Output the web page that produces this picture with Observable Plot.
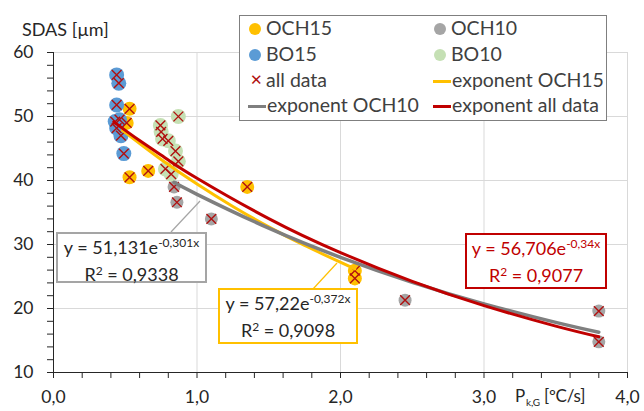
<!DOCTYPE html>
<html>
<head>
<meta charset="utf-8">
<script src="https://cdn.jsdelivr.net/npm/d3@7"></script>
<script src="https://cdn.jsdelivr.net/npm/@observablehq/plot@0.6"></script>
<style>
  body { margin: 0; background: #fff; }
  #wrap { position: relative; width: 644px; height: 411px; font-family: Lato, "Open Sans", sans-serif; color: #404040; }
  .ov { position: absolute; white-space: nowrap; }
  .leg { position: absolute; font-size: 19.5px; line-height: 22px; height: 22px; color: #404040; white-space: nowrap; }
  .dotm { position: absolute; width: 12px; height: 12px; border-radius: 50%; }
  .linem { position: absolute; height: 3px; }
  .eq { position: absolute; background: #fff; border: 2px solid; text-align: center; font-size: 18px; line-height: 24px; box-sizing: border-box; padding-top: 1px; white-space: nowrap; }
  .eq sup { font-size: 12px; vertical-align: 0; position: relative; top: -7px; }
</style>
</head>
<body>
<div id="wrap"></div>
<script>
// ---- data ----
const och15X = [0.53, 0.51, 0.53, 0.66, 1.35, 2.10, 2.10];
const och15Y = [51.2, 49.0, 40.5, 41.5, 39.0, 25.9, 24.7];

const och10X = [0.84, 0.86, 1.10, 2.45, 3.80, 3.80];
const och10Y = [39.0, 36.6, 34.0, 21.3, 19.6, 14.8];

const bo15X = [0.44, 0.455, 0.44, 0.43, 0.44, 0.47, 0.46, 0.49];
const bo15Y = [56.5, 55.2, 51.8, 49.2, 48.2, 47.0, 49.5, 44.2];

const bo10X = [0.87, 0.745, 0.75, 0.76, 0.80, 0.85, 0.78, 0.82, 0.87];
const bo10Y = [50.0, 48.6, 47.6, 46.5, 46.2, 44.6, 41.8, 41.0, 43.0];

// trend curves
const trendOch15X = [0.48, 0.75, 1.0, 1.25, 1.5, 1.75, 2.1];
const trendOch15Y = [47.86, 43.29, 39.45, 35.95, 32.75, 29.84, 26.20];
const trendOch10X = [0.84, 1.0, 1.5, 2.0, 2.5, 3.0, 3.5, 3.8];
const trendOch10Y = [39.71, 37.84, 32.55, 28.00, 24.09, 20.73, 17.83, 16.29];
const trendAllX = [0.42, 0.6, 0.8, 1.0, 1.5, 2.0, 2.5, 3.0, 3.5, 3.8];
const trendAllY = [49.16, 46.24, 43.21, 40.36, 34.05, 28.73, 24.24, 20.45, 17.25, 15.58];

const xTicks = [0, 0.2, 0.4, 0.6, 0.8, 1, 1.2, 1.4, 1.6, 1.8, 2, 2.2, 2.4, 2.6, 2.8, 3, 3.2, 3.4, 3.6, 3.8, 4];
const yTicks = [10, 12, 14, 16, 18, 20, 22, 24, 26, 28, 30, 32, 34, 36, 38, 40, 42, 44, 46, 48, 50, 52, 54, 56, 58, 60];
const xGrid = [1, 2, 3, 4];
const yGrid = [20, 30, 40, 50, 60];

const legendItems = ["OCH15", "OCH10", "BO15", "BO10", "all data", "exponent OCH15", "exponent OCH10", "exponent all data"];
const eqOch10 = ["51,131", "-0,301x", "0,9338"];
const eqOch15 = ["57,22", "-0,372x", "0,9098"];
const eqAll = ["56,706", "-0,34x", "0,9077"];

// ---- build rows ----
const rows = (xs, ys) => xs.map((x, i) => ({x, y: ys[i]}));
const och15 = rows(och15X, och15Y), och10 = rows(och10X, och10Y);
const bo15 = rows(bo15X, bo15Y), bo10 = rows(bo10X, bo10Y);
const all = [...bo15, ...och15, ...bo10, ...och10];

const C = {och15: "#FFC000", och10: "#A5A5A5", bo15: "#5B9BD5", bo10: "#C5E0B4", cross: "#B01010",
           lOch15: "#FFC000", lOch10: "#7F7F7F", lAll: "#C00000", grid: "#D9D9D9", axis: "#262626"};

const fmt = d => Math.abs(d - Math.round(d)) < 1e-6 ? d.toFixed(1).replace(".", ",") : "";
const fmtY = d => d % 10 === 0 ? String(d) : "";

const chart = Plot.plot({
  width: 644, height: 411,
  marginLeft: 53, marginRight: 17, marginTop: 52, marginBottom: 39,
  x: {domain: [0, 4]},
  y: {domain: [10, 60]},
  style: {fontFamily: "Lato, 'Open Sans', sans-serif", fontSize: "17.5px", color: "#404040", background: "white"},
  marks: [
    Plot.gridY(yGrid, {stroke: C.grid, strokeOpacity: 1}),
    Plot.gridX(xGrid, {stroke: C.grid, strokeOpacity: 1}),
    Plot.axisY({ticks: yTicks, tickSize: 6, tickPadding: 14, tickFormat: fmtY, stroke: C.axis, fill: "#262626", label: null}),
    Plot.axisX({ticks: xTicks, tickSize: 6, tickPadding: 12, tickFormat: fmt, stroke: C.axis, fill: "#262626", label: null}),
    Plot.ruleX([0], {stroke: C.axis}),
    Plot.ruleY([10], {stroke: C.axis}),
    Plot.dot(och10, {x: "x", y: "y", r: 6.5, symbol: "circle", fill: C.och10, stroke: "none"}),
    Plot.dot(och15, {x: "x", y: "y", r: 7, symbol: "circle", fill: C.och15, stroke: "none"}),
    Plot.dot(bo10, {x: "x", y: "y", r: 7.5, symbol: "circle", fill: C.bo10, stroke: "none"}),
    Plot.dot(bo15, {x: "x", y: "y", r: 7.5, symbol: "circle", fill: C.bo15, stroke: "none"}),
    Plot.dot(all, {x: "x", y: "y", r: 4.5, symbol: "times", stroke: C.cross, strokeWidth: 1.4}),
    Plot.line(rows(trendOch15X, trendOch15Y), {x: "x", y: "y", stroke: C.lOch15, strokeWidth: 3, curve: "natural"}),
    Plot.line(rows(trendOch10X, trendOch10Y), {x: "x", y: "y", stroke: C.lOch10, strokeWidth: 3.5, curve: "natural"}),
    Plot.line(rows(trendAllX, trendAllY), {x: "x", y: "y", stroke: C.lAll, strokeWidth: 3, curve: "natural"})
  ]
});

const wrap = document.getElementById("wrap");
wrap.appendChild(chart);
chart.style.position = "absolute"; chart.style.left = "0"; chart.style.top = "0";

function add(html) { wrap.insertAdjacentHTML("beforeend", html); }

// axis titles
add(`<div class="ov" style="left:22px;top:18px;font-size:18px;color:#262626">SDAS [µm]</div>`);
add(`<div class="ov" style="left:515px;top:386px;font-size:17px;line-height:20px;color:#262626;letter-spacing:-0.2px">P<span style="font-size:10px;position:relative;top:4px;margin-left:1px">k,G</span> [ºC/s]</div>`);

// leader lines
add(`<svg style="position:absolute;left:0;top:0" width="644" height="411">
  <line x1="171" y1="232" x2="200" y2="201" stroke="${C.och10}" stroke-width="1.2"/>
  <line x1="313" y1="289" x2="337" y2="263" stroke="${C.och15}" stroke-width="1.2"/>
</svg>`);

// legend
add(`<div style="position:absolute;left:239px;top:15px;width:368px;height:106px;background:#fff;border:1px solid #7f7f7f;box-sizing:border-box"></div>`);
const legRows = [29, 55, 81, 106];
const legCols = [249, 434];
const legMarks = [
  {t: "dot", c: C.och15}, {t: "dot", c: C.och10}, {t: "dot", c: C.bo15}, {t: "dot", c: C.bo10},
  {t: "x", c: C.cross}, {t: "line", c: C.lOch15}, {t: "line", c: C.lOch10}, {t: "line", c: C.lAll}
];
legendItems.forEach((label, i) => {
  const r = legRows[Math.floor(i / 2)], c = legCols[i % 2], m = legMarks[i];
  let mk = "";
  if (m.t === "dot") mk = `<div class="dotm" style="left:${c}px;top:${r - 6}px;background:${m.c}"></div>`;
  else if (m.t === "line") mk = `<div class="linem" style="left:${c - 1}px;top:${r - 1}px;width:18px;background:${m.c}"></div>`;
  else mk = `<div class="ov" style="left:${c + 1}px;top:${r - 11}px;color:${m.c};font-size:15px">✕</div>`;
  const tx = m.t === "line" ? c + 18 : c + 17;
  add(mk + `<div class="leg" style="left:${tx}px;top:${r - 12}px">${label}</div>`);
});

// equation boxes
function eqBox(left, top, w, h, col, txt, eq) {
  add(`<div class="eq" style="left:${left}px;top:${top}px;width:${w}px;height:${h}px;border-color:${col};color:${txt}">
    y = ${eq[0]}e<sup>${eq[1]}</sup><br>R<sup style="top:-6px">2</sup> = ${eq[2]}</div>`);
}
eqBox(56, 232, 151, 51, C.och10, "#262626", eqOch10);
eqBox(218, 288, 140, 56, C.och15, "#262626", eqOch15);
eqBox(465, 233, 142, 56, C.lAll, C.lAll, eqAll);
</script>
</body>
</html>
